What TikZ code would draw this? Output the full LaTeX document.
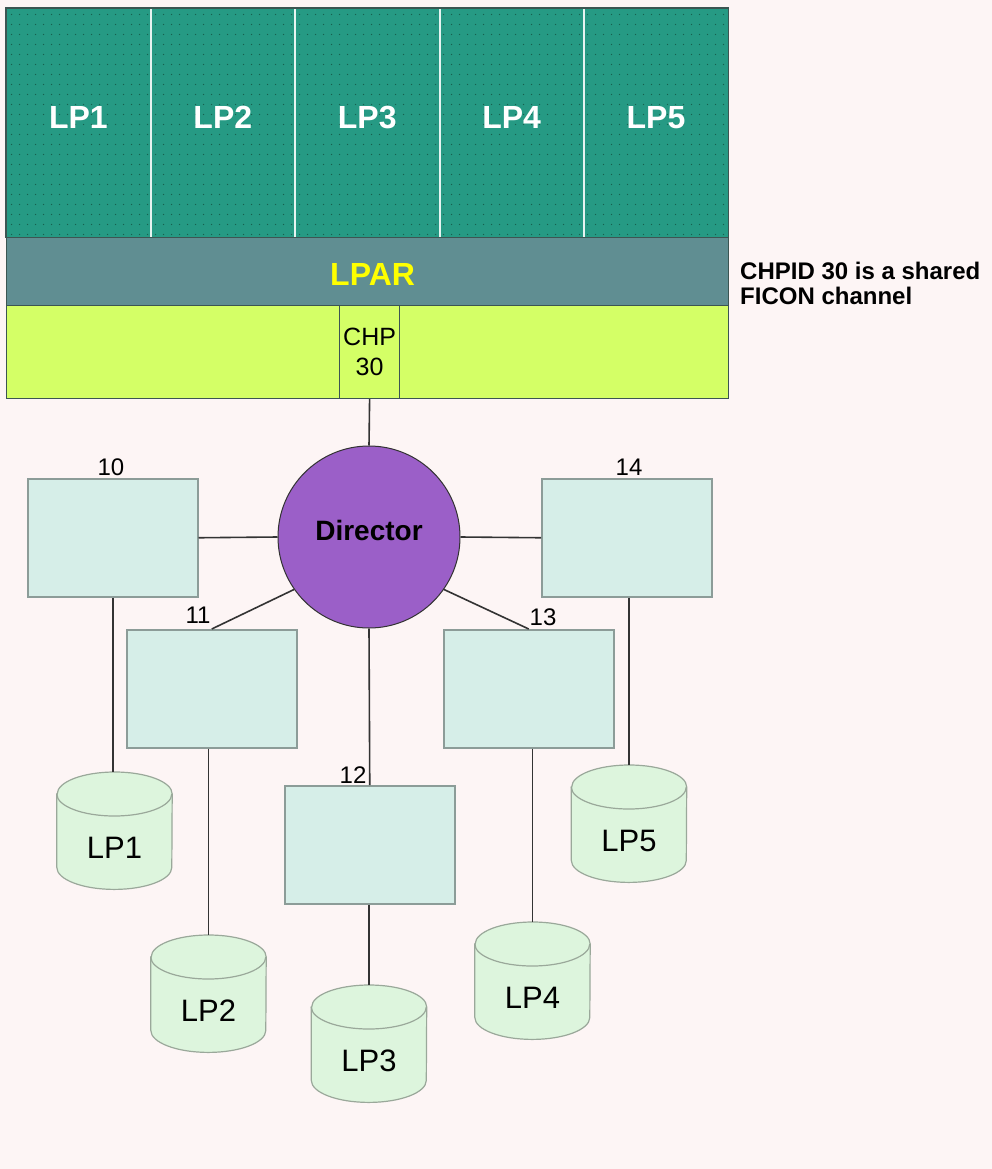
\documentclass[tikz,border=0pt]{standalone}
\usepackage{fontspec}
\setmainfont{Liberation Sans}
\usetikzlibrary{calc,patterns.meta}
\pgfdeclarelayer{back}
\pgfsetlayers{back,main}

\definecolor{pagebg}{HTML}{FDF5F5}
\definecolor{hostteal}{HTML}{269A84}
\definecolor{hostdot}{HTML}{17604F}
\definecolor{lparband}{HTML}{608E92}
\definecolor{chanlime}{HTML}{D4FF66}
\definecolor{cuFill}{HTML}{D6EEE8}
\definecolor{cuEdge}{HTML}{8C9C98}
\definecolor{dasdFill}{HTML}{DDF5DD}
\definecolor{dasdEdge}{HTML}{9AA89A}
\definecolor{dirFill}{HTML}{9B5FC8}
\definecolor{wire}{HTML}{333333}
\definecolor{frameEdge}{HTML}{3C5552}
\definecolor{lparText}{HTML}{FFFF00}
\definecolor{divLine}{HTML}{E6F4F1}

\tikzdeclarepattern{
  name=hostdots, type=uncolored,
  bottom left={(0pt,0pt)}, top right={(8pt,10pt)}, tile size={(8pt,10pt)},
  code={\fill (4pt,5pt) circle (0.75pt);}
}

\tikzset{
  lpcell/.style={anchor=north west, inner sep=0pt, minimum width=144.4pt,
    text height=120pt, text depth=109pt, fill=hostteal,
    postaction={pattern=hostdots, pattern color=hostdot},
    text=white, font=\bfseries\fontsize{32}{38}\selectfont},
  lparbar/.style={anchor=north west, inner sep=0pt, minimum width=722pt,
    text height=48pt, text depth=20pt, fill=lparband, draw=frameEdge,
    line width=1.2pt, text=lparText, font=\bfseries\fontsize{32}{38}\selectfont},
  chanbar/.style={anchor=north west, inner sep=0pt, minimum width=722pt,
    minimum height=93pt, fill=chanlime, draw=frameEdge, line width=1.2pt},
  chpbox/.style={anchor=north west, inner sep=0pt, minimum width=60pt,
    minimum height=93pt, draw=frameEdge, line width=1.2pt, align=center,
    font=\fontsize{25}{30}\selectfont},
  director/.style={circle, minimum size=182pt, inner sep=0pt, fill=dirFill,
    draw=black!80, line width=1pt, text height=20pt, text depth=14pt,
    font=\bfseries\fontsize{28}{32}\selectfont},
  cu/.style={anchor=north west, rectangle, inner sep=0pt, minimum width=170pt,
    minimum height=118pt, fill=cuFill, draw=cuEdge, line width=1.5pt},
  numlabel/.style={anchor=base, inner sep=0pt, font=\fontsize{24}{28}\selectfont},
  dasd/.style={anchor=north, inner sep=0pt, minimum width=115pt,
    text height=86pt, text depth=31pt, font=\fontsize{31}{36}\selectfont},
  wire/.style={draw=wire, line width=1.6pt},
  divider/.style={draw=divLine, line width=2pt},
}

\begin{document}
\begin{tikzpicture}[x=1pt, y=-1pt]
\useasboundingbox (0,0) rectangle (992,1169);
\begin{pgfonlayer}{back}
  \fill[pagebg] (0,0) rectangle (992,1169);
\end{pgfonlayer}

% processor complex: logical partitions, LPAR layer, channel layer
\node[lpcell] (lp1) at (6,8) {LP1};
\node[lpcell] (lp2) at (150.4,8) {LP2};
\node[lpcell] (lp3) at (294.8,8) {LP3};
\node[lpcell] (lp4) at (439.2,8) {LP4};
\node[lpcell] (lp5) at (583.6,8) {LP5};
\foreach \c in {lp1,lp2,lp3,lp4}
  \draw[divider] (\c.north east) -- (\c.south east);
\draw[frameEdge, line width=1.2pt] (lp1.north west) rectangle (lp5.south east);

\node[lparbar] (lpar) at (6,237) {\hspace*{10pt}LPAR};
\node[chanbar] (chan) at (6,305) {};
\node[chpbox] (chp) at (339,305) {CHP\\30};

\node[anchor=north west, inner sep=0pt, align=left,
      font=\bfseries\fontsize{24}{25}\selectfont] (note) at (740,262)
      {CHPID 30 is a shared\\FICON channel};

% FICON director and control units
\node[director] (dir) at (369,537) {Director};

\node[cu] (b10) at (27,478) {};
\node[cu] (b11) at (126,629) {};
\node[cu] (b12) at (284,785) {};
\node[cu] (b13) at (443,629) {};
\node[cu] (b14) at (541,478) {};

\node[numlabel] (l10) at (111,475) {10};
\node[numlabel] (l11) at (198,623) {11};
\node[numlabel] (l12) at (353,783) {12};
\node[numlabel] (l13) at (543,625) {13};
\node[numlabel] (l14) at (629,475) {14};

% DASD volumes
\node[dasd] (d1) at (114.5,772) {LP1};
\node[dasd] (d2) at (208.5,935) {LP2};
\node[dasd] (d3) at (369,985) {LP3};
\node[dasd] (d4) at (532.5,922) {LP4};
\node[dasd] (d5) at (629,765) {LP5};

\begin{pgfonlayer}{back}
\foreach \d in {d1,d2,d3,d4,d5}{
  \filldraw[draw=dasdEdge, fill=dasdFill, line width=1.2pt]
    ($(\d.north west)+(0,22)$) -- ($(\d.south west)+(0,-22)$)
    arc[start angle=180, end angle=0, x radius=57.5, y radius=22]
    -- ($(\d.north east)+(0,22)$)
    arc[start angle=0, end angle=-180, x radius=57.5, y radius=22] -- cycle;
  \draw[draw=dasdEdge, line width=1.2pt]
    ($(\d.north west)+(0,22)$)
    arc[start angle=180, end angle=0, x radius=57.5, y radius=22];
}
\end{pgfonlayer}

% links
\draw[wire] (chp.south) -- (dir.north);
\draw[wire] (b10.east) -- (dir.west);
\draw[wire] (dir.east) -- (b14.west);
\draw[wire] (dir.215) -- (b11.north);
\draw[wire] (dir.325) -- (b13.north);
\draw[wire] (dir.south) -- (b12.north);
\draw[wire] (b10.south) -- (b10.south |- d1.north);
\draw[wire] (d2.north |- b11.south) -- (d2.north);
\draw[wire] (d3.north |- b12.south) -- (d3.north);
\draw[wire] (d4.north |- b13.south) -- (d4.north);
\draw[wire] (d5.north |- b14.south) -- (d5.north);
\end{tikzpicture}
\end{document}
